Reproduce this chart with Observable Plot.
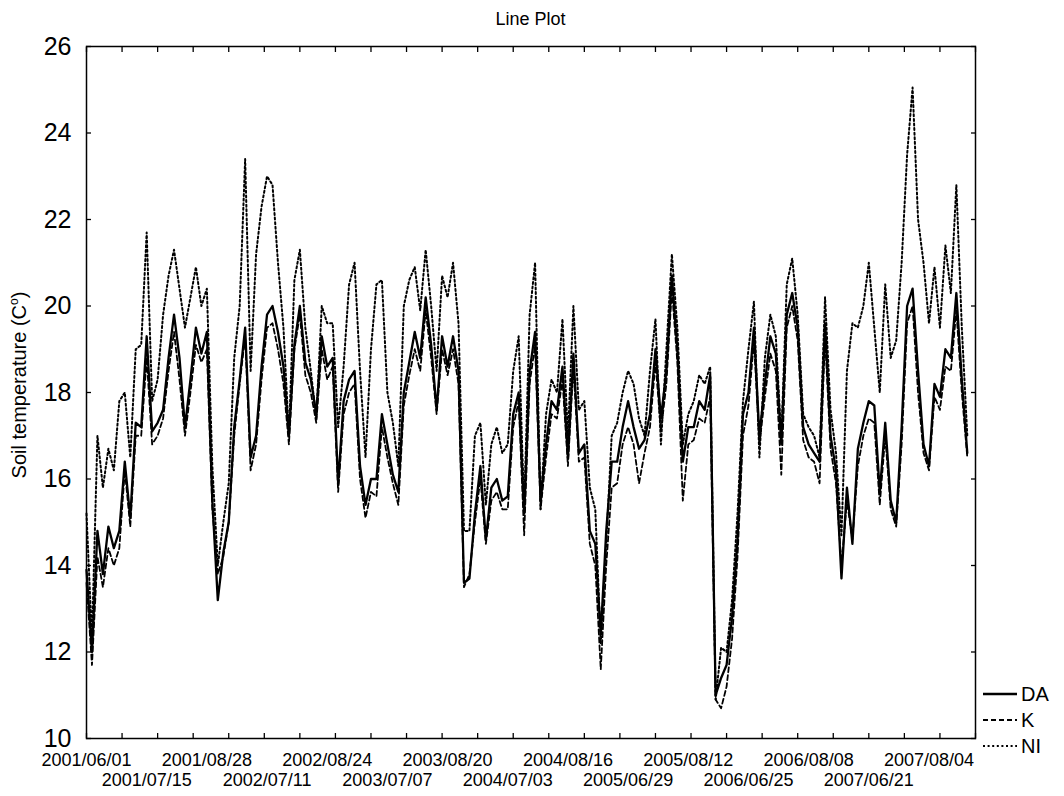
<!DOCTYPE html>
<html><head><meta charset="utf-8">
<script src="https://cdn.jsdelivr.net/npm/d3@7"></script>
<script src="https://cdn.jsdelivr.net/npm/@observablehq/plot@0.6"></script>
<style>body{margin:0;background:#fff}</style>
</head><body><div id="chart"></div>
<script>
// sampled every 4th case (case 1, 5, 9, ...)
const caseStep = 4;
const DA = [13.9,12.0,14.8,13.8,14.9,14.4,14.8,16.4,15.1,17.3,17.2,19.3,17.1,17.3,17.6,18.8,19.8,18.8,17.2,18.3,
19.5,18.9,19.4,15.5,13.2,14.3,15.0,17.2,18.3,19.5,16.5,17.0,18.6,19.8,20.0,19.4,18.6,17.0,19.1,20.0,
18.7,18.3,17.5,19.3,18.6,18.8,15.9,17.8,18.3,18.5,16.3,15.4,16.0,16.0,17.5,16.8,16.1,15.7,18.0,18.7,
19.4,18.8,20.2,19.1,17.6,19.3,18.6,19.3,18.5,13.6,13.7,15.2,16.3,14.6,15.8,16.0,15.5,15.6,17.5,18.0,
15.2,18.5,19.4,15.5,16.8,17.8,17.6,18.6,16.5,18.9,16.6,16.8,14.8,14.5,12.4,14.8,16.4,16.4,17.2,17.8,
17.2,16.7,16.9,17.5,19.0,17.4,18.5,20.7,19.0,16.4,17.2,17.2,17.8,17.6,18.4,11.0,11.4,11.7,12.8,14.6,
17.5,18.0,19.5,17.0,18.2,19.3,18.9,16.8,19.8,20.3,19.5,17.2,16.8,16.6,16.4,19.6,17.0,16.2,13.7,15.8,
14.5,16.7,17.3,17.8,17.7,15.7,17.3,15.5,15.0,17.2,20.0,20.4,18.5,16.8,16.3,18.2,17.9,19.0,18.8,20.3,
18.3,16.6];
const K = [13.6,11.7,14.2,13.5,14.4,14.0,14.4,16.2,14.9,17.0,17.0,18.8,16.8,17.0,17.4,18.5,19.4,18.3,17.0,18.0,
19.1,18.7,19.0,15.3,13.8,14.2,15.0,17.0,18.2,19.3,16.2,16.8,18.3,19.5,19.6,19.0,18.2,16.8,19.0,19.8,
18.4,18.0,17.3,19.0,18.3,18.6,15.7,17.5,18.0,18.2,16.0,15.1,15.7,15.6,17.2,16.5,15.9,15.4,17.7,18.4,
19.0,18.5,19.9,18.8,17.5,19.0,18.4,19.0,18.2,13.5,13.8,15.0,16.0,14.5,15.5,15.7,15.3,15.3,17.2,17.8,
14.7,18.2,19.1,15.3,16.5,17.5,17.4,18.3,16.3,18.6,16.4,16.5,14.5,14.0,11.6,14.0,15.8,15.9,16.8,17.2,
16.8,15.9,16.6,17.2,18.7,17.1,18.2,20.4,18.7,15.5,16.8,16.9,17.4,17.3,17.9,10.9,10.7,11.2,12.3,14.2,
17.0,17.7,19.2,16.8,17.9,18.9,18.5,16.1,19.5,20.0,19.2,16.9,16.5,16.4,15.9,19.3,16.7,15.9,14.0,15.5,
14.6,16.3,17.0,17.4,17.3,15.4,17.0,15.3,14.9,16.8,19.6,20.0,18.0,16.6,16.2,17.9,17.6,18.6,18.5,19.9,
18.0,16.5];
const NI = [15.2,12.3,17.0,15.8,16.7,16.2,17.8,18.0,16.5,19.0,19.1,21.7,17.8,18.3,19.8,20.7,21.3,20.4,19.5,20.2,
20.9,20.0,20.4,16.3,14.0,15.0,15.9,18.8,20.0,23.4,18.5,21.2,22.3,23.0,22.8,21.0,19.5,17.0,20.6,21.3,
19.5,18.5,17.4,20.0,19.6,19.6,17.2,18.6,20.5,21.0,18.5,16.5,19.0,20.5,20.6,18.0,17.3,16.3,20.0,20.6,
20.9,19.9,21.3,20.0,18.5,20.7,20.2,21.0,19.6,14.8,14.8,17.0,17.3,15.4,16.8,17.2,16.6,16.8,18.5,19.3,
15.3,19.8,21.0,15.3,17.5,18.3,18.0,19.7,17.0,20.0,17.6,17.8,15.8,15.3,12.2,14.5,17.0,17.3,18.0,18.5,
18.2,17.4,17.0,18.5,19.7,16.8,19.0,21.2,19.5,16.8,17.5,17.8,18.4,18.2,18.6,10.9,12.1,12.0,13.2,15.2,
17.8,19.0,20.1,16.5,18.8,19.8,19.3,16.9,20.5,21.1,19.8,17.5,17.2,17.0,16.5,20.2,17.6,16.6,14.7,18.5,
19.6,19.5,20.0,21.0,19.5,18.0,20.5,18.8,19.2,21.0,23.5,25.05,22.0,21.0,19.6,20.9,19.5,21.4,20.3,22.8,
19.5,17.0];

const seriesNames = ["DA", "K", "NI"];
const labelCases = [1,45,89,133,177,221,265,309,353,397,441,485,529,573,617];
const labelDates = ["2001/06/01","2001/07/15","2001/08/28","2002/07/11","2002/08/24","2003/07/07","2003/08/20",
  "2004/07/03","2004/08/16","2005/06/29","2005/08/12","2006/06/25","2006/08/08","2007/06/21","2007/08/04"];
const tickCases = [1,27,53,79,105,131,157,183,209,235,261,287,313,339,365,391,417,443,469,495,521,547,573,599,625,651];
const yTicks = [10,12,14,16,18,20,22,24,26];

const toRows = vals => vals.map((v, i) => ({c: 1 + i * caseStep, v}));
const dateOf = new Map(labelCases.map((c, i) => [c, labelDates[i]]));
const row1 = labelCases.filter((c, i) => i % 2 === 0);
const row2 = labelCases.filter((c, i) => i % 2 === 1);

const font = "'Liberation Sans', Arial, Helvetica, sans-serif";
const ml = 86, mr = 89, mt = 46, mb = 58, W = 1064, H = 796;

const chart = Plot.plot({
  width: W, height: H,
  marginLeft: ml, marginRight: mr, marginTop: mt, marginBottom: mb,
  style: {fontFamily: font, background: "white", color: "black", overflow: "visible"},
  x: {domain: [1, 651], label: null},
  y: {domain: [10, 26], label: null},
  marks: [
    Plot.line(toRows(NI), {x: "c", y: "v", stroke: "black", strokeWidth: 2, strokeDasharray: "2,2.6", strokeLinejoin: "round"}),
    Plot.line(toRows(K), {x: "c", y: "v", stroke: "black", strokeWidth: 1.8, strokeDasharray: "5,3"}),
    Plot.line(toRows(DA), {x: "c", y: "v", stroke: "black", strokeWidth: 2.3, strokeLinejoin: "round"}),
    Plot.axisY(yTicks, {anchor: "left", tickSize: -5, tickPadding: 20, fontSize: 25, label: null, strokeWidth: 1.3}),
    Plot.axisY(yTicks, {anchor: "right", tickSize: -5, tickFormat: () => "", label: null, strokeWidth: 1.3}),
    Plot.axisX(tickCases, {anchor: "bottom", tickSize: -5, tickFormat: () => "", label: null, strokeWidth: 1.3}),
    Plot.axisX(tickCases, {anchor: "top", tickSize: -5, tickFormat: () => "", label: null, strokeWidth: 1.3}),
    Plot.axisX(row1, {anchor: "bottom", tickSize: 0, tickPadding: 15, tickFormat: c => dateOf.get(c), fontSize: 18, label: null}),
    Plot.axisX(row2, {anchor: "bottom", tickSize: 0, tickPadding: 35, tickFormat: c => dateOf.get(c), fontSize: 18, label: null}),
    Plot.frame({stroke: "black", strokeWidth: 1.5})
  ]
});
document.getElementById("chart").append(chart);

const svg = d3.select(chart);
svg.append("text").attr("x", (ml + W - mr) / 2).attr("y", 25)
  .attr("text-anchor", "middle").attr("font-size", 18).attr("font-family", font).attr("fill", "black")
  .text("Line Plot");

const yl = svg.append("text")
  .attr("transform", `translate(26,385) rotate(-90)`)
  .attr("text-anchor", "middle").attr("font-size", 20).attr("font-family", font).attr("fill", "black");
yl.append("tspan").text("Soil temperature (C");
yl.append("tspan").attr("font-size", 12).attr("dy", -8).text("o");
yl.append("tspan").attr("dy", 8).text(")");

const legendDash = [null, "5,3", "2,2.6"];
const legendW = [2.3, 1.8, 2];
seriesNames.forEach((name, i) => {
  const y = 694 + i * 26;
  svg.append("line").attr("x1", 983).attr("x2", 1017).attr("y1", y).attr("y2", y)
    .attr("stroke", "black").attr("stroke-width", legendW[i]).attr("stroke-dasharray", legendDash[i]);
  svg.append("text").attr("x", 1021).attr("y", y).attr("dy", "0.36em")
    .attr("text-anchor", "start")
    .attr("font-size", 20).attr("font-family", font).attr("fill", "black").text(name);
});
</script>
</body></html>
